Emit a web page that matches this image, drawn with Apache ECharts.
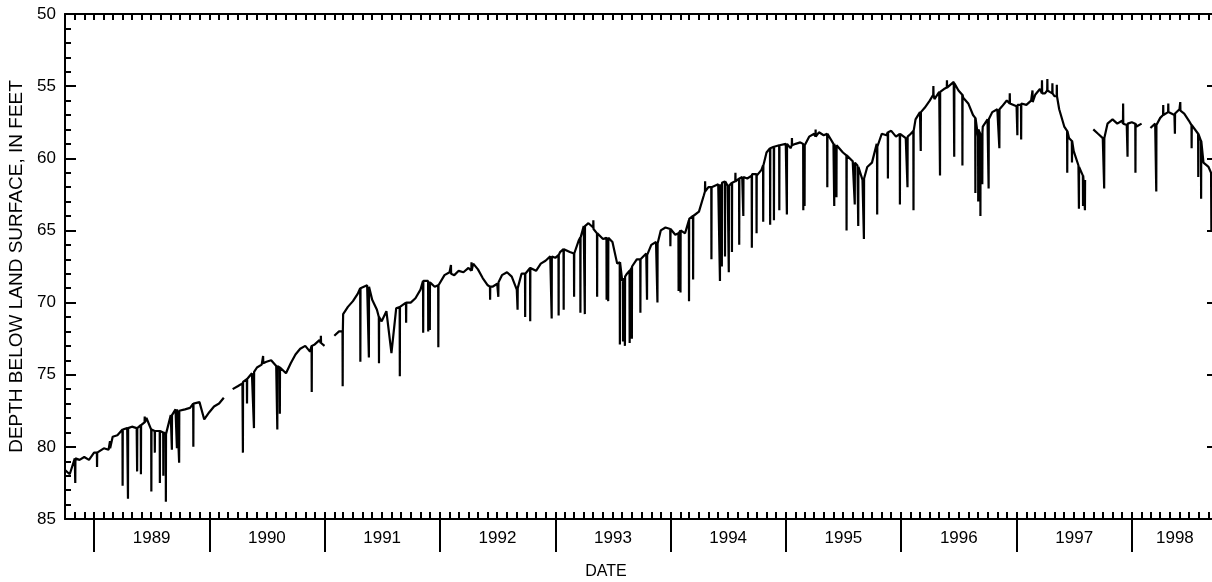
<!DOCTYPE html>
<html>
<head>
<meta charset="utf-8">
<script src="https://cdn.jsdelivr.net/npm/echarts@6.0.0/dist/echarts.min.js"></script>
<style>
  html, body { margin: 0; padding: 0; background: #fff; }
  #chart { width: 1212px; height: 582px; }
</style>
</head>
<body>
<div id="chart"></div>
<script>
// water levels, depth below land surface (ft), read on the 1st and 16th of each month
// each water year runs October -> September; null = no record
const wy1989 = [81.6, 81.9, 80.8, 80.9, 80.7, 80.9, 80.4, 80.3, 80.1, 80.2, 79.3, 79.2, 78.8, 78.7, 78.6, 78.7, 78.4, 78.0, 78.8, 79.0, 78.9, 79.1, 77.8, 77.4];
const wy1990 = [77.5, 77.4, 77.3, 77.0, 76.9, 78.1, 77.6, 77.2, 77.0, 76.6, null, 76.0, 75.8, 75.6, 75.3, 74.9, 74.5, 74.3, 74.1, 74.0, 74.4, 74.6, 74.9, 74.2];
const wy1991 = [73.6, 73.2, 73.0, 73.4, 72.9, 72.6, 73.0, null, 72.3, 72.0, 70.8, 70.3, 69.9, 69.4, 68.9, 68.8, 69.8, 70.5, 71.3, 70.6, 73.5, 70.4, 70.3, 70.0];
const wy1992 = [70.0, 69.7, 69.1, 68.4, 68.6, 68.9, 68.7, 68.1, 67.9, 68.1, 67.8, 67.9, 67.6, 67.3, 67.7, 68.3, 68.8, 68.9, 68.7, 68.1, 67.9, 68.2, 69.1, 68.0];
const wy1993 = [67.9, 67.6, 67.8, 67.3, 67.1, 66.8, 66.9, 66.5, 66.2, 66.5, 66.6, 65.7, 64.7, 64.5, 64.8, 65.2, 65.6, 65.5, 65.8, 67.3, 68.5, 68.0, 67.5, 67.0];
const wy1994 = [66.9, 66.6, 66.0, 65.8, 65.0, 64.8, 65.1, 65.3, 65.0, 65.2, 64.2, 63.9, 63.7, 62.6, 62.0, 61.9, 61.8, 61.6, 61.9, 61.7, 61.5, 61.3, 61.4, 61.1];
const wy1995 = [61.2, 60.8, 59.6, 59.3, 59.1, 59.2, 59.0, 59.3, 59.0, 58.9, 59.1, 58.5, 58.3, 58.2, 58.4, 58.3, 59.0, 59.2, 59.6, 59.9, 60.2, 60.5, 61.5, 60.6];
const wy1996 = [60.3, 59.0, 58.3, 58.4, 58.1, 58.5, 58.2, 58.6, 58.3, 57.3, 56.8, 56.5, 56.0, 55.9, 55.4, 55.2, 55.0, 54.7, 55.3, 55.8, 56.2, 57.0, 58.5, 57.8];
const wy1997 = [57.3, 56.8, 56.6, 56.4, 56.0, 56.3, 56.4, 56.2, 56.3, 56.0, 55.6, 55.2, 55.5, 55.4, 55.7, 56.6, 57.8, 58.6, 59.5, 60.5, 61.5, null, 58.0, 58.3];
const wy1998 = [58.6, 57.6, 57.3, 57.6, 57.4, 57.7, 57.5, 57.8, 57.6, null, 57.9, 57.6, 57.2, 56.9, 56.7, 57.0, 56.6, 56.9, 57.4, 57.8, 58.3, 60.3, 60.6];
const lastReadings = [['1998-09-09', 61.0], ['1998-09-10', 65.0]];

// short excursions: [date, level before, extreme level]
const drawdowns1989to1992 = [
  ['1988-11-02', 80.8, 82.5], ['1989-01-10', 80.4, 81.4], ['1989-04-01', 78.8, 82.7], ['1989-04-18', 78.7, 83.6],
  ['1989-05-17', 78.7, 81.7], ['1989-05-29', 78.5, 81.9], ['1989-07-01', 78.8, 83.1], ['1989-07-12', 78.9, 80.4],
  ['1989-07-28', 78.9, 82.5], ['1989-08-08', 79.0, 82.0], ['1989-08-16', 79.1, 83.8], ['1989-09-04', 77.8, 80.2],
  ['1989-09-20', 77.4, 80.1], ['1989-09-27', 77.5, 81.1], ['1989-11-11', 77.0, 80.0], ['1990-04-17', 75.5, 80.4],
  ['1990-04-30', 75.3, 77.0], ['1990-05-22', 74.8, 78.7], ['1990-08-04', 74.4, 78.8], ['1990-08-12', 74.5, 77.7],
  ['1990-11-21', 73.0, 76.2], ['1991-02-27', 72.0, 75.8], ['1991-04-24', 69.0, 74.1], ['1991-05-21', 68.9, 73.8],
  ['1991-06-22', 71.0, 74.2], ['1991-08-27', 70.3, 75.1], ['1991-09-16', 70.0, 71.4], ['1991-11-09', 68.5, 72.1],
  ['1991-11-25', 68.5, 72.0], ['1991-11-30', 68.6, 71.9], ['1991-12-27', 68.8, 73.1], ['1992-06-08', 68.9, 69.8],
  ['1992-07-04', 68.6, 69.6], ['1992-09-03', 69.0, 70.5], ['1992-09-27', 68.0, 71.0],
  ['1989-02-20', 80.1, 79.6], ['1989-06-10', 78.3, 77.9], ['1990-06-20', 74.2, 73.7], ['1990-12-20', 72.8, 72.3],
  ['1992-02-05', 68.0, 67.4], ['1992-04-10', 67.8, 67.2]
];
const drawdowns1993to1995 = [
  ['1992-10-13', 67.6, 71.3], ['1992-12-20', 66.8, 71.1], ['1993-01-11', 66.7, 70.9], ['1993-01-27', 66.3, 70.5],
  ['1993-03-01', 66.6, 69.6], ['1993-03-21', 65.5, 70.7], ['1993-04-04', 64.7, 70.8], ['1993-05-13', 65.2, 69.6],
  ['1993-06-12', 65.5, 69.8], ['1993-06-17', 65.5, 69.9], ['1993-07-24', 67.2, 72.9], ['1993-08-03', 68.3, 72.7],
  ['1993-08-09', 68.2, 73.0], ['1993-08-24', 67.8, 72.8], ['1993-08-31', 67.6, 72.5], ['1993-09-27', 67.0, 70.7],
  ['1993-10-18', 66.7, 69.8], ['1993-11-20', 65.9, 70.0], ['1993-12-31', 64.9, 66.1], ['1994-01-26', 65.2, 69.2],
  ['1994-02-01', 65.0, 69.3], ['1994-02-28', 64.3, 69.9], ['1994-03-13', 64.0, 68.4], ['1994-05-10', 62.0, 67.0],
  ['1994-06-06', 61.8, 68.5], ['1994-06-12', 61.7, 67.5], ['1994-06-22', 61.6, 66.8], ['1994-07-04', 61.9, 67.9],
  ['1994-07-14', 61.7, 66.5], ['1994-08-06', 61.4, 66.0], ['1994-08-19', 61.3, 64.0], ['1994-09-15', 61.2, 66.2],
  ['1994-09-30', 61.1, 65.2], ['1994-10-21', 60.5, 64.4], ['1994-11-12', 59.3, 64.6], ['1994-11-24', 59.2, 64.3],
  ['1994-12-11', 59.1, 63.6], ['1995-01-04', 59.0, 63.9], ['1995-02-25', 59.0, 63.6], ['1995-03-01', 59.1, 63.3],
  ['1995-05-12', 58.3, 62.0], ['1995-06-03', 59.0, 63.3], ['1995-06-10', 59.1, 62.7], ['1995-07-12', 59.8, 65.0],
  ['1995-08-07', 60.3, 63.2], ['1995-08-18', 60.6, 64.7], ['1995-09-05', 61.4, 65.6],
  ['1993-05-01', 64.9, 64.3], ['1994-04-20', 62.3, 61.6], ['1994-07-25', 61.6, 61.0], ['1995-01-20', 59.1, 58.6],
  ['1995-04-05', 58.5, 58.0]
];
const drawdowns1996to1998 = [
  ['1995-10-17', 59.2, 63.9], ['1995-11-20', 58.2, 61.4], ['1995-12-28', 58.3, 63.2], ['1996-01-21', 58.5, 62.0],
  ['1996-02-09', 58.1, 63.6], ['1996-03-03', 56.8, 59.5], ['1996-05-03', 55.4, 61.2], ['1996-06-17', 54.8, 59.9],
  ['1996-07-13', 55.6, 60.5], ['1996-08-23', 57.2, 62.4], ['1996-09-01', 58.0, 63.0], ['1996-09-08', 58.3, 64.0],
  ['1996-09-14', 58.2, 61.8], ['1996-10-04', 57.3, 62.1], ['1996-11-07', 56.6, 59.3], ['1997-01-03', 56.3, 58.4],
  ['1997-01-15', 56.3, 58.7], ['1997-06-10', 58.1, 61.0], ['1997-06-25', 58.8, 60.3], ['1997-07-17', 60.6, 63.5],
  ['1997-07-30', 61.2, 63.3], ['1997-08-05', 61.5, 63.6], ['1997-10-05', 58.6, 62.1], ['1997-12-04', 57.6, 56.2],
  ['1997-12-18', 57.6, 59.9], ['1998-01-12', 57.6, 61.0], ['1998-03-19', 57.7, 62.3], ['1998-05-17', 56.9, 58.3],
  ['1998-07-09', 57.7, 59.3], ['1998-07-30', 58.3, 61.3], ['1998-08-08', 58.8, 62.8],
  ['1996-04-12', 55.6, 55.0], ['1996-05-25', 55.1, 54.6], ['1996-12-10', 56.2, 55.5], ['1997-02-20', 56.1, 55.3],
  ['1997-03-22', 55.5, 54.6], ['1997-04-08', 55.3, 54.5], ['1997-04-24', 55.5, 54.8], ['1997-05-08', 55.7, 54.9],
  ['1998-04-10', 57.0, 56.3], ['1998-04-26', 56.8, 56.2], ['1998-06-03', 56.7, 56.1]
];

const font = 'Liberation Sans, Arial, Helvetica, sans-serif';
const start = Date.UTC(1988, 9, 1);
const end = Date.UTC(1998, 9, 1);
const day = 86400000;

function toTime(s) {
  const p = s.split('-').map(Number);
  return Date.UTC(p[0], p[1] - 1, p[2]);
}

let points = [];
[[1989, wy1989], [1990, wy1990], [1991, wy1991], [1992, wy1992], [1993, wy1993],
 [1994, wy1994], [1995, wy1995], [1996, wy1996], [1997, wy1997], [1998, wy1998]].forEach(([wy, vals]) => {
  vals.forEach((v, k) => {
    const t = Date.UTC(wy - 1, 9 + Math.floor(k / 2), k % 2 ? 16 : 1);
    points.push([t, v === null ? '-' : v]);
  });
});
lastReadings.forEach(r => points.push([toTime(r[0]), r[1]]));
drawdowns1989to1992.concat(drawdowns1993to1995, drawdowns1996to1998).forEach(d => {
  const t = toTime(d[0]);
  points.push([t, d[1]], [t + day / 2, d[2]], [t + day, d[1]]);
});
points.sort((a, b) => a[0] - b[0]);

// axis tick positions
const monthTicks = [];
for (let y = 1988, m = 9; Date.UTC(y, m, 1) <= end; m++) {
  if (m === 12) { m = 0; y++; }
  monthTicks.push(Date.UTC(y, m, 1));
}
const yearTicks = [];
const yearLabelPos = [];
for (let y = 1989; y <= 1998; y++) {
  yearTicks.push(Date.UTC(y, 0, 1));
  const a = Math.max(start, Date.UTC(y, 0, 1));
  const b = Math.min(end, Date.UTC(y + 1, 0, 1));
  yearLabelPos.push((a + b) / 2);
}

const black = '#000';
const chart = echarts.init(document.getElementById('chart'));
chart.setOption({
  animation: false,
  backgroundColor: '#fff',
  title: {
    text: 'DATE', left: 'center', top: 559,
    textStyle: { fontSize: 16, fontWeight: 'normal', color: black, fontFamily: font }
  },
  grid: { left: 65, top: 14, width: 1153, height: 505, outerBoundsMode: 'none', containLabel: false },
  xAxis: [
    {
      type: 'value', position: 'bottom', min: start, max: end,
      axisLine: { lineStyle: { color: black, width: 2 } },
      axisTick: { customValues: monthTicks, inside: true, length: 7, lineStyle: { color: black, width: 2 } },
      axisLabel: { show: false }, splitLine: { show: false }
    },
    {
      type: 'value', position: 'bottom', min: start, max: end,
      axisLine: { show: false },
      axisTick: { customValues: yearTicks, inside: false, length: 33, lineStyle: { color: black, width: 2 } },
      axisLabel: {
        customValues: yearLabelPos, margin: 11, fontSize: 17, color: black, fontFamily: font,
        formatter: v => String(new Date(v).getUTCFullYear())
      },
      splitLine: { show: false }
    },
    {
      type: 'value', position: 'top', min: start, max: end,
      axisLine: { lineStyle: { color: black, width: 2 } },
      axisTick: { customValues: monthTicks, inside: true, length: 6, lineStyle: { color: black, width: 2 } },
      axisLabel: { show: false }, splitLine: { show: false }
    }
  ],
  yAxis: [
    {
      type: 'value', position: 'left', inverse: true, min: 50, max: 85, interval: 5,
      axisLine: { show: true, lineStyle: { color: black, width: 2 } },
      axisTick: { show: true, inside: true, length: 11, lineStyle: { color: black, width: 2 } },
      minorTick: { show: true, splitNumber: 5, length: 6, lineStyle: { color: black, width: 2 } },
      axisLabel: { margin: 9, fontSize: 17, color: black, fontFamily: font },
      splitLine: { show: false },
      name: 'DEPTH BELOW LAND SURFACE, IN FEET', nameLocation: 'middle', nameGap: 36,
      nameTextStyle: { fontSize: 19, color: black, fontFamily: font }
    },
    {
      type: 'value', position: 'right', inverse: true, min: 50, max: 85, interval: 5,
      axisLine: { show: true, lineStyle: { color: black, width: 2 } },
      axisTick: { show: true, inside: true, length: 11, lineStyle: { color: black, width: 2 } },
      minorTick: { show: true, splitNumber: 5, length: 6, lineStyle: { color: black, width: 2 } },
      axisLabel: { show: false },
      splitLine: { show: false }
    }
  ],
  series: [
    {
      type: 'line', xAxisIndex: 0, yAxisIndex: 0, data: points,
      showSymbol: false, symbol: 'none', connectNulls: false, silent: true,
      lineStyle: { color: black, width: 2.2 }
    }
  ]
});
</script>
</body>
</html>
